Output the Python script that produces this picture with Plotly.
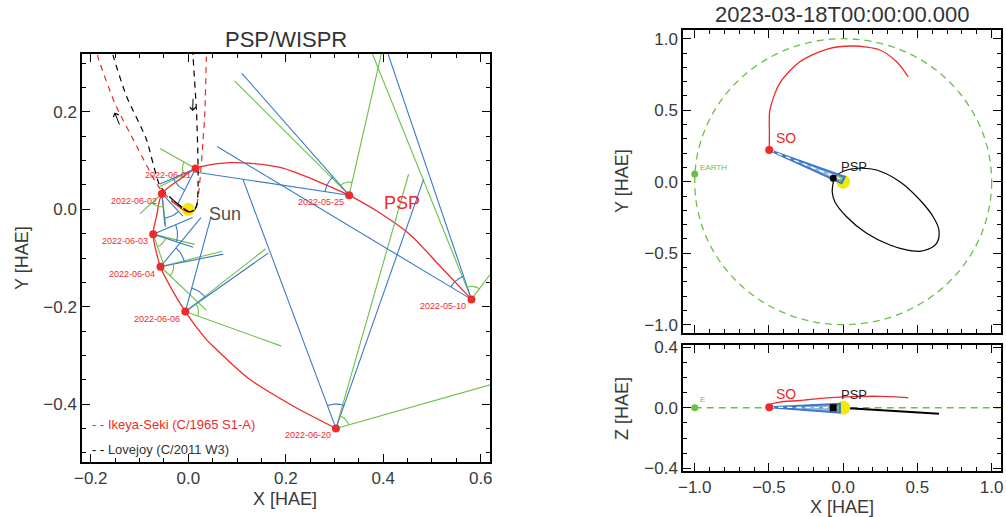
import numpy as np
import plotly.graph_objects as go

# ================= LEFT PANEL DATA (PSP/WISPR, HAE in AU) =================
psp_dates = ["2022-05-10", "2022-05-25", "2022-06-01", "2022-06-02",
             "2022-06-03", "2022-06-04", "2022-06-06", "2022-06-20"]
psp_x = [0.581, 0.330, 0.015, -0.054, -0.072, -0.057, -0.006, 0.303]
psp_y = [-0.185, 0.029, 0.084, 0.032, -0.051, -0.118, -0.210, -0.450]

# PSP orbit arc (05-10 -> 06-20)
orbit_x = [0.581, 0.516, 0.454, 0.386, 0.345, 0.330, 0.188, 0.085, 0.024, 0.015,
           -0.017, -0.054, -0.065, -0.072, -0.057, -0.034, -0.006, 0.037, 0.058,
           0.126, 0.215, 0.303]
orbit_y = [-0.185, -0.116, -0.051, -0.003, 0.021, 0.029, 0.086, 0.096, 0.087, 0.084,
           0.062, 0.032, -0.014, -0.051, -0.118, -0.164, -0.210, -0.267, -0.288,
           -0.349, -0.404, -0.450]

# WISPR field-of-view edge end points (one per PSP position)
inner_a_x = [0.059, 0.017, -0.021, -0.011, 0.009, 0.026, 0.046, 0.112]
inner_a_y = [0.129, 0.076, 0.012, -0.014, -0.017, -0.017, -0.018, 0.062]
inner_b_x = [0.399, 0.110, -0.058, -0.048, 0.010, 0.072, 0.164, 0.483]
inner_b_y = [0.351, 0.279, 0.052, -0.033, -0.078, -0.092, -0.090, 0.062]
outer_a_x = [0.365, 0.095, -0.058, -0.046, 0.013, 0.070, 0.159, 0.452]
outer_a_y = [0.351, 0.264, 0.047, -0.037, -0.072, -0.086, -0.081, 0.072]
outer_b_x = [0.657, 0.403, -0.058, -0.099, -0.050, 0.037, 0.191, 0.685]
outer_b_y = [-0.083, 0.350, 0.125, -0.009, -0.115, -0.207, -0.281, -0.342]

# Comet paths
ikeya_x = [-0.190, -0.185, -0.151, -0.106, -0.062, -0.035, -0.012, 0.000, 0.010,
           0.017, 0.022, 0.027, 0.034, 0.037, 0.038]
ikeya_y = [0.340, 0.312, 0.219, 0.130, 0.048, 0.018, 0.000, -0.006, -0.004,
           0.007, 0.040, 0.096, 0.199, 0.308, 0.340]
lovejoy_x = [-0.160, -0.154, -0.127, -0.086, -0.058, -0.030, -0.010, 0.002, 0.012,
             0.018, 0.020, 0.020, 0.017, 0.010, 0.009]
lovejoy_y = [0.340, 0.315, 0.233, 0.144, 0.048, 0.018, 0.002, -0.005, -0.002,
             0.010, 0.040, 0.096, 0.199, 0.312, 0.340]
ikeya_peri_x = [-0.035, -0.012, 0.000, 0.010, 0.017]
ikeya_peri_y = [0.018, 0.000, -0.006, -0.004, 0.007]
lovejoy_peri_x = [-0.030, -0.010, 0.002, 0.012, 0.018]
lovejoy_peri_y = [0.018, 0.002, -0.005, -0.002, 0.010]

# Direction arrows on Lovejoy path
arrow_head_x = [-0.151, 0.009]
arrow_head_y = [0.199, 0.202]
arrow_tail_x = [-0.140, 0.010]
arrow_tail_y = [0.171, 0.230]

legend_names = ["Ikeya-Seki (C/1965 S1-A)", "Lovejoy (C/2011 W3)"]

# ================= RIGHT PANELS DATA (2023-03-18) =================
earth_orbit_r = 1.0
earth_x, earth_y, earth_z = -1.0, 0.054, 0.0
so_x, so_y, so_z = -0.498, 0.222, 0.003
psp_now_x, psp_now_y, psp_now_z = -0.067, 0.024, 0.0

so_track_x = [-0.498, -0.497, -0.494, -0.428, -0.292, -0.112, 0.067, 0.247, 0.360, 0.438]
so_track_y = [0.222, 0.350, 0.500, 0.688, 0.839, 0.926, 0.949, 0.921, 0.839, 0.734]
so_track_z = [0.003, 0.010, 0.020, 0.038, 0.048, 0.065, 0.074, 0.076, 0.072, 0.066]

psp_orbit_x = [-0.067, 0.011, 0.113, 0.225, 0.382, 0.517, 0.606, 0.645, 0.629, 0.539,
               0.461, 0.315, 0.158, 0.023, -0.056, -0.074, -0.067, -0.067]
psp_orbit_y = [0.024, 0.077, 0.094, 0.082, 0.000, -0.128, -0.245, -0.338, -0.431, -0.483,
               -0.483, -0.443, -0.361, -0.245, -0.140, -0.070, 0.000, 0.024]
psp_orbit_xz_x = [-0.074, 0.000, 0.200, 0.400, 0.645]
psp_orbit_xz_z = [0.004, 0.000, -0.012, -0.025, -0.040]

# SolO viewing wedge toward the Sun
wedge_xy_x = [so_x, 0.011, -0.011, so_x]
wedge_xy_y = [so_y, 0.035, -0.011, so_y]
wedge_xz_x = [so_x, -0.022, -0.022, so_x]
wedge_xz_z = [so_z, 0.026, -0.033, so_z]

# ================= STYLE =================
RED = "#ee2b2b"
BLUE = "#3b78c6"
GREEN = "#6cbf47"
YELLOW = "#f2ea05"
TXT = "#3a3a3a"
FONT = "Liberation Sans, Arial, sans-serif"
W, H = 1006, 517

fig = go.Figure()

# ---------- left panel ----------
fig.add_trace(go.Scatter(x=orbit_x, y=orbit_y, mode="lines",
                         line=dict(color=RED, width=1.3, shape="spline", smoothing=0.8),
                         xaxis="x", yaxis="y", hoverinfo="skip"))


def seg_list(ox, oy, ex, ey):
    xs, ys = [], []
    for a, b, c, d in zip(ox, oy, ex, ey):
        xs += [a, c, None]
        ys += [b, d, None]
    return xs, ys


def arc_list(ox, oy, ax_, ay_, bx_, by_, r, n=16):
    xs, ys = [], []
    for cx, cy, x1, y1, x2, y2 in zip(ox, oy, ax_, ay_, bx_, by_):
        a1 = np.arctan2(y1 - cy, x1 - cx)
        a2 = np.arctan2(y2 - cy, x2 - cx)
        d = (a2 - a1 + np.pi) % (2 * np.pi) - np.pi
        t = a1 + d * np.linspace(0, 1, n)
        xs += list(cx + r * np.cos(t)) + [None]
        ys += list(cy + r * np.sin(t)) + [None]
    return xs, ys


bx1, by1 = seg_list(psp_x, psp_y, inner_a_x, inner_a_y)
bx2, by2 = seg_list(psp_x, psp_y, inner_b_x, inner_b_y)
gx1, gy1 = seg_list(psp_x, psp_y, outer_a_x, outer_a_y)
gx2, gy2 = seg_list(psp_x, psp_y, outer_b_x, outer_b_y)
fig.add_trace(go.Scatter(x=gx1 + gx2, y=gy1 + gy2, mode="lines",
                         line=dict(color=GREEN, width=1.1), xaxis="x", yaxis="y", hoverinfo="skip"))
fig.add_trace(go.Scatter(x=bx1 + bx2, y=by1 + by2, mode="lines",
                         line=dict(color=BLUE, width=1.1), xaxis="x", yaxis="y", hoverinfo="skip"))
arx, ary = arc_list(psp_x, psp_y, inner_a_x, inner_a_y, inner_b_x, inner_b_y, 0.05)
agx, agy = arc_list(psp_x, psp_y, outer_a_x, outer_a_y, outer_b_x, outer_b_y, 0.027)
fig.add_trace(go.Scatter(x=arx, y=ary, mode="lines", line=dict(color=BLUE, width=1.1),
                         xaxis="x", yaxis="y", hoverinfo="skip"))
fig.add_trace(go.Scatter(x=agx, y=agy, mode="lines", line=dict(color=GREEN, width=1.1),
                         xaxis="x", yaxis="y", hoverinfo="skip"))

# comets
fig.add_trace(go.Scatter(x=ikeya_x, y=ikeya_y, mode="lines",
                         line=dict(color=RED, width=1.2, dash="6px,5px", shape="spline", smoothing=0.6),
                         xaxis="x", yaxis="y", hoverinfo="skip"))
fig.add_trace(go.Scatter(x=lovejoy_x, y=lovejoy_y, mode="lines",
                         line=dict(color="black", width=1.2, dash="6px,5px", shape="spline", smoothing=0.6),
                         xaxis="x", yaxis="y", hoverinfo="skip"))
fig.add_trace(go.Scatter(x=ikeya_peri_x, y=ikeya_peri_y, mode="lines",
                         line=dict(color=RED, width=1.2, shape="spline"),
                         xaxis="x", yaxis="y", hoverinfo="skip"))
fig.add_trace(go.Scatter(x=lovejoy_peri_x, y=lovejoy_peri_y, mode="lines",
                         line=dict(color="black", width=1.2, shape="spline"),
                         xaxis="x", yaxis="y", hoverinfo="skip"))

# sun + PSP positions
fig.add_trace(go.Scatter(x=[0], y=[0], mode="markers",
                         marker=dict(color=YELLOW, size=13, line=dict(width=0)),
                         xaxis="x", yaxis="y", hoverinfo="skip"))
fig.add_trace(go.Scatter(x=ikeya_peri_x[1:4], y=ikeya_peri_y[1:4], mode="lines",
                         line=dict(color=RED, width=1.2, shape="spline"),
                         xaxis="x", yaxis="y", hoverinfo="skip"))
fig.add_trace(go.Scatter(x=lovejoy_peri_x[1:4], y=lovejoy_peri_y[1:4], mode="lines",
                         line=dict(color="black", width=1.2, shape="spline"),
                         xaxis="x", yaxis="y", hoverinfo="skip"))
fig.add_trace(go.Scatter(x=psp_x, y=psp_y, mode="markers",
                         marker=dict(color=RED, size=8, line=dict(width=0)),
                         xaxis="x", yaxis="y", hoverinfo="skip"))

# ---------- right top panel ----------
fig.add_trace(go.Scatter(x=so_track_x, y=so_track_y, mode="lines",
                         line=dict(color=RED, width=1.3, shape="spline", smoothing=0.8),
                         xaxis="x2", yaxis="y2", hoverinfo="skip"))
fig.add_trace(go.Scatter(x=psp_orbit_x, y=psp_orbit_y, mode="lines",
                         line=dict(color="black", width=1.2, shape="spline", smoothing=1.0),
                         xaxis="x2", yaxis="y2", hoverinfo="skip"))
fig.add_trace(go.Scatter(x=[0], y=[0], mode="markers",
                         marker=dict(color=YELLOW, size=14, line=dict(width=0)),
                         xaxis="x2", yaxis="y2", hoverinfo="skip"))
fig.add_trace(go.Scatter(x=wedge_xy_x, y=wedge_xy_y, mode="lines", fill="toself",
                         fillcolor="rgba(59,120,198,0.55)",
                         line=dict(color=BLUE, width=2), xaxis="x2", yaxis="y2", hoverinfo="skip"))
fig.add_trace(go.Scatter(x=[so_x, 0.0], y=[so_y, 0.012], mode="lines",
                         line=dict(color="white", width=1.3, dash="5px,4px"),
                         xaxis="x2", yaxis="y2", hoverinfo="skip"))
fig.add_trace(go.Scatter(x=[earth_x], y=[earth_y], mode="markers",
                         marker=dict(color=GREEN, size=7), xaxis="x2", yaxis="y2", hoverinfo="skip"))
fig.add_trace(go.Scatter(x=[so_x], y=[so_y], mode="markers",
                         marker=dict(color=RED, size=8), xaxis="x2", yaxis="y2", hoverinfo="skip"))
fig.add_trace(go.Scatter(x=[psp_now_x], y=[psp_now_y], mode="markers",
                         marker=dict(color="black", size=7), xaxis="x2", yaxis="y2", hoverinfo="skip"))

# ---------- right bottom panel ----------
fig.add_trace(go.Scatter(x=[earth_x, 1.1], y=[earth_z, earth_z], mode="lines",
                         line=dict(color=GREEN, width=1.3, dash="7px,5px"),
                         xaxis="x3", yaxis="y3", hoverinfo="skip"))
fig.add_trace(go.Scatter(x=so_track_x, y=so_track_z, mode="lines",
                         line=dict(color=RED, width=1.3, shape="spline", smoothing=0.8),
                         xaxis="x3", yaxis="y3", hoverinfo="skip"))
fig.add_trace(go.Scatter(x=psp_orbit_xz_x, y=psp_orbit_xz_z, mode="lines",
                         line=dict(color="black", width=2),
                         xaxis="x3", yaxis="y3", hoverinfo="skip"))
fig.add_trace(go.Scatter(x=[0], y=[0], mode="markers",
                         marker=dict(color=YELLOW, size=14, line=dict(width=0)),
                         xaxis="x3", yaxis="y3", hoverinfo="skip"))
fig.add_trace(go.Scatter(x=wedge_xz_x, y=wedge_xz_z, mode="lines", fill="toself",
                         fillcolor="rgba(59,120,198,0.55)",
                         line=dict(color=BLUE, width=2), xaxis="x3", yaxis="y3", hoverinfo="skip"))
fig.add_trace(go.Scatter(x=[so_x, -0.022], y=[so_z, 0.0], mode="lines",
                         line=dict(color="white", width=1.3, dash="5px,4px"),
                         xaxis="x3", yaxis="y3", hoverinfo="skip"))
fig.add_trace(go.Scatter(x=[earth_x], y=[earth_z], mode="markers",
                         marker=dict(color=GREEN, size=7), xaxis="x3", yaxis="y3", hoverinfo="skip"))
fig.add_trace(go.Scatter(x=[so_x], y=[so_z], mode="markers",
                         marker=dict(color=RED, size=8), xaxis="x3", yaxis="y3", hoverinfo="skip"))
fig.add_trace(go.Scatter(x=[psp_now_x], y=[psp_now_z], mode="markers",
                         marker=dict(color="black", size=7, symbol="square"),
                         xaxis="x3", yaxis="y3", hoverinfo="skip"))

# ---------- axes ----------
def axis(domain, rng, dtick, minor, labels=True, anchor=None):
    d = dict(domain=domain, range=rng, dtick=dtick, tick0=0, showline=True, linecolor="black",
             linewidth=1.5, mirror="allticks", ticks="inside", ticklen=8, tickwidth=1.2,
             tickcolor="black", showgrid=False, zeroline=False, tickformat=".1f",
             showticklabels=labels, ticklabelstandoff=0, automargin=False,
             tickfont=dict(family=FONT, size=17, color=TXT),
             minor=dict(dtick=minor, tick0=0, ticks="inside", ticklen=4, tickwidth=1.2,
                        tickcolor="black", showgrid=False))
    if anchor:
        d["anchor"] = anchor
    return d


def px_x(p):
    return p / W


def px_y(p):
    return 1 - p / H


fig.update_layout(
    width=W, height=H, margin=dict(l=0, r=0, t=0, b=0, pad=0, autoexpand=False),
    paper_bgcolor="white", plot_bgcolor="white", showlegend=False,
    font=dict(family=FONT, color=TXT),
    xaxis=axis([px_x(82), px_x(490)], [-0.218, 0.619], 0.2, 0.05, anchor="y"),
    yaxis=axis([px_y(462), px_y(54)], [-0.519, 0.319], 0.2, 0.05, anchor="x"),
    xaxis2=axis([px_x(683), px_x(1001)], [-1.079, 1.063], 0.5, 0.1, labels=False, anchor="y2"),
    yaxis2=axis([px_y(333), px_y(30)], [-1.058, 1.061], 0.5, 0.1, anchor="x2"),
    xaxis3=axis([px_x(683), px_x(1001)], [-1.079, 1.063], 0.5, 0.1, anchor="y3"),
    yaxis3=axis([px_y(471), px_y(345)], [-0.418, 0.415], 0.4, 0.1, anchor="x3"),
)

# Earth orbit circle (top-right)
fig.add_shape(type="circle", xref="x2", yref="y2",
              x0=-earth_orbit_r, x1=earth_orbit_r, y0=-earth_orbit_r, y1=earth_orbit_r,
              line=dict(color=GREEN, width=1.3, dash="7px,5px"), layer="below")

ann = []


def text(x, y, s, size, color=TXT, xref="paper", yref="paper", **kw):
    d = dict(x=x, y=y, text=s, showarrow=False, xref=xref, yref=yref,
             font=dict(family=FONT, size=size, color=color))
    d.update(kw)
    ann.append(d)


# titles & axis labels
text(px_x(286), px_y(39), "PSP/WISPR", 22, "#333333", xanchor="center", yanchor="middle")
text(px_x(842), px_y(14), "2023-03-18T00:00:00.000", 22, "#333333", xanchor="center", yanchor="middle")
text(px_x(285), px_y(499), "X [HAE]", 18, xanchor="center", yanchor="middle")
text(px_x(22), px_y(258), "Y [HAE]", 18, xanchor="center", yanchor="middle", textangle=-90)
text(px_x(842), px_y(507), "X [HAE]", 18, xanchor="center", yanchor="middle")
text(px_x(622), px_y(181), "Y [HAE]", 18, xanchor="center", yanchor="middle", textangle=-90)
text(px_x(622), px_y(409), "Z [HAE]", 18, xanchor="center", yanchor="middle", textangle=-90)

# date labels
for dx, dy, dl in zip(psp_x, psp_y, psp_dates):
    text(dx, dy, dl, 9, RED, xref="x", yref="y", xanchor="right", yanchor="middle",
         xshift=-3, yshift=-7)

text(0, 0, "Sun", 18, "#505050", xref="x", yref="y", xanchor="left", yanchor="middle",
     xshift=19, yshift=-5)
text(psp_x[1], psp_y[1], "PSP", 18, RED, xref="x", yref="y", xanchor="left", yanchor="middle",
     xshift=33, yshift=-8)

# legend (bottom-left inside)
text(px_x(90), px_y(424), '<span style="color:%s">- -</span> <span style="color:%s">%s</span>'
     % (RED, RED, legend_names[0]), 13, RED, xanchor="left", yanchor="middle")
text(px_x(90), px_y(449), '<span style="color:black">- -</span> %s' % legend_names[1],
     13, "#333333", xanchor="left", yanchor="middle")

# arrows
for hx, hy, tx, ty in zip(arrow_head_x, arrow_head_y, arrow_tail_x, arrow_tail_y):
    ann.append(dict(x=hx, y=hy, ax=tx, ay=ty, xref="x", yref="y", axref="x", ayref="y",
                    showarrow=True, arrowhead=4, arrowsize=1.1, arrowwidth=1, arrowcolor="black",
                    text=""))

# right panel labels
text(so_x, so_y, "SO", 14, RED, xref="x2", yref="y2", xanchor="center", yanchor="middle",
     xshift=17, yshift=12)
text(psp_now_x, psp_now_y, "PSP", 13, "#222222", xref="x2", yref="y2", xanchor="center",
     yanchor="middle", xshift=21, yshift=12)
text(earth_x, earth_y, "EARTH", 8, GREEN, xref="x2", yref="y2", xanchor="left",
     yanchor="middle", xshift=3, yshift=6)
text(so_x, so_z, "SO", 14, RED, xref="x3", yref="y3", xanchor="center", yanchor="middle",
     xshift=17, yshift=13)
text(psp_now_x, psp_now_z, "PSP", 13, "#222222", xref="x3", yref="y3", xanchor="center",
     yanchor="middle", xshift=21, yshift=13)
text(earth_x, earth_z, "E", 8, GREEN, xref="x3", yref="y3", xanchor="left",
     yanchor="middle", xshift=3, yshift=8)

fig.update_layout(annotations=ann)
fig.write_html("out.html", config={"displayModeBar": False},
               post_script="document.body.style.margin='0';document.body.style.overflow='hidden';")
